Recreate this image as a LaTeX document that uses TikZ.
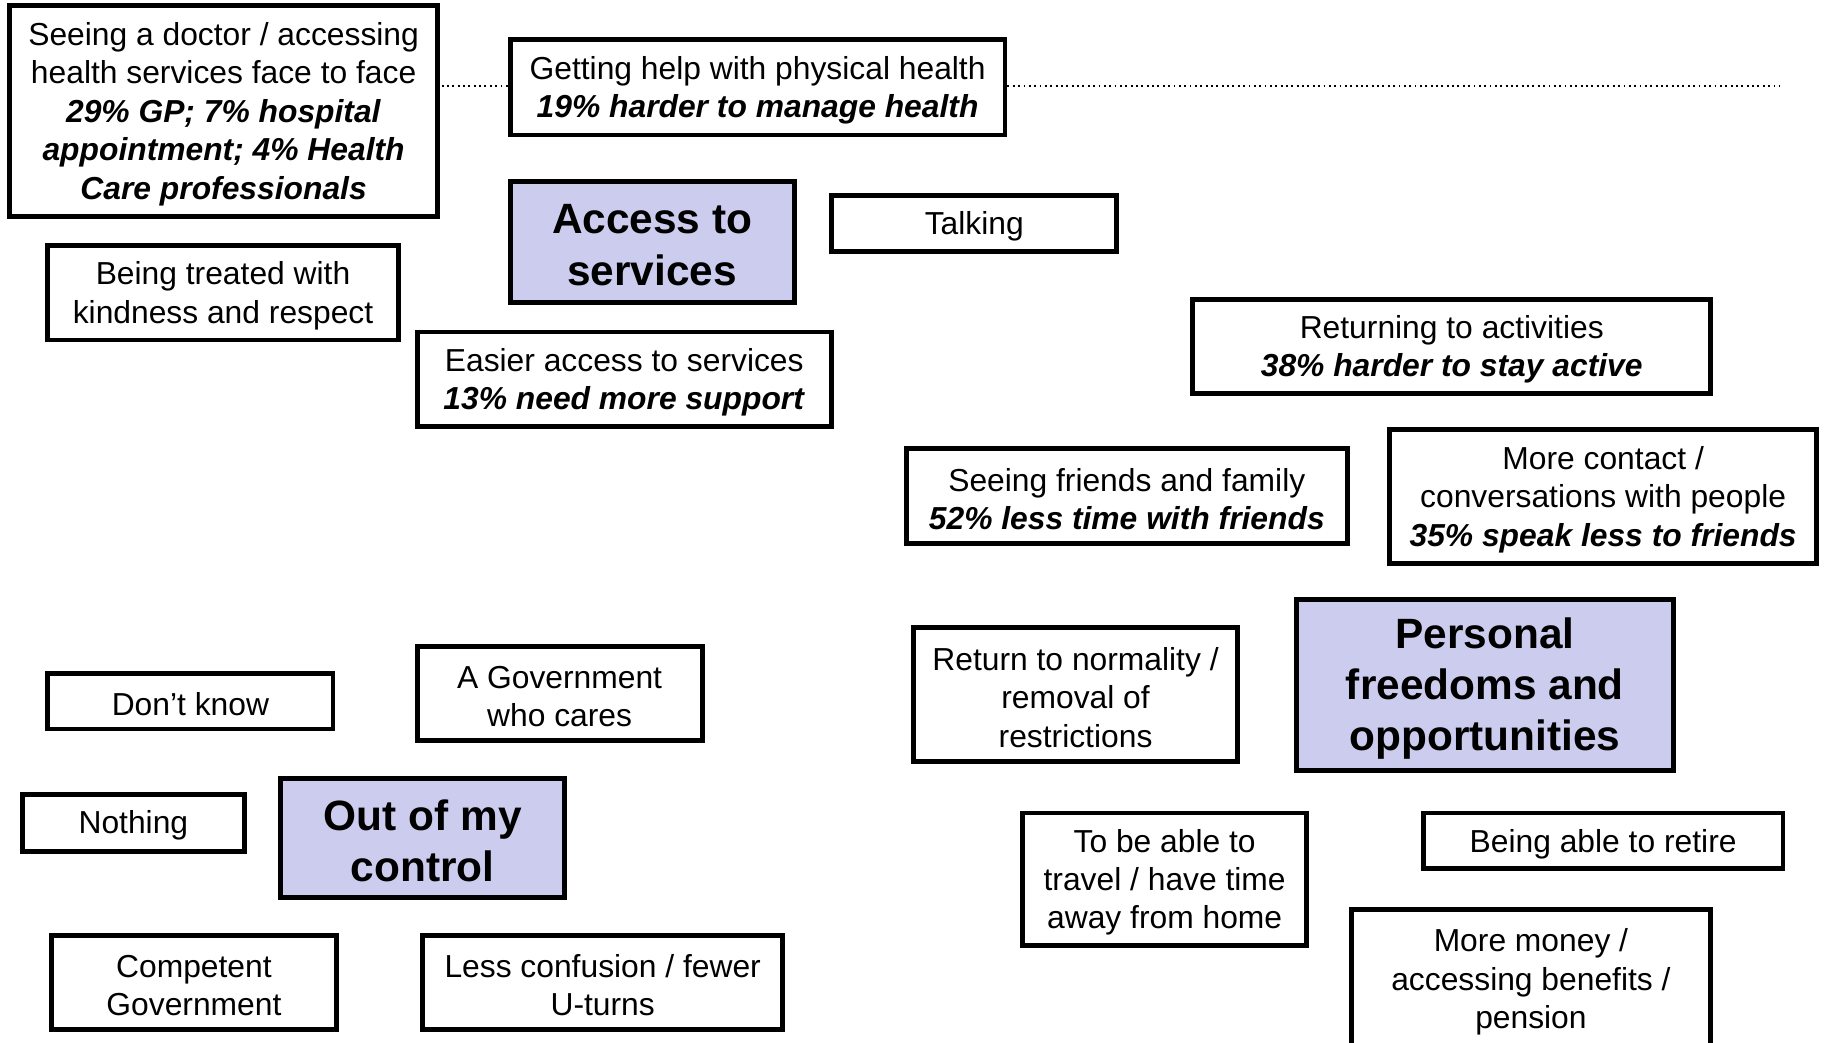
\documentclass[tikz,border=0pt]{standalone}
\usepackage{fontspec}
\setmainfont{Liberation Sans}
\definecolor{lav}{RGB}{204,204,238}
\tikzset{
  box/.style={draw=black, line width=4.2pt, fill=white, inner sep=0pt},
  hbox/.style={box, fill=lav},
  boxtext/.style={align=center, inner sep=0pt, yshift=-2.5pt, font=\fontsize{27.3}{33}\selectfont},
  hboxtext/.style={boxtext, font=\bfseries\fontsize{36.4}{44}\selectfont},
  link/.style={line width=1.6pt, dash pattern=on 1.6pt off 3pt}
}
\newcommand\bx[7]{\node[#1, minimum width={#5-#3-4.2}, minimum height={#6-#4-4.2},
  label={[#1text]center:{#7}}] (#2) at ({(#3+#5)/2},{(#4+#6)/2}) {};}
\newcommand\bi[1]{\textbf{\textit{#1}}}
\begin{document}
\begin{tikzpicture}[x=1pt,y=-1pt]
\useasboundingbox[fill=white] (0,0) rectangle (1567,895);
\coordinate (lineend) at (1528,74);
\bx{box}{doctor}{6}{3}{378}{188}{Seeing a doctor / accessing\\health services face to face\\\bi{29\% GP; 7\% hospital}\\\bi{appointment; 4\% Health}\\\bi{Care professionals}}
\bx{box}{physical}{436}{32}{865}{118}{Getting help with physical health\\\bi{19\% harder to manage health}}
\draw[link] (physical.west |- lineend) -- (doctor.east |- lineend);
\draw[link] (physical.east |- lineend) -- (lineend);
\bx{hbox}{access}{436}{154}{684}{262}{Access to\\services}
\bx{box}{talking}{712}{166}{961}{218}{Talking}
\bx{box}{kindness}{39}{209}{344}{294}{Being treated with\\kindness and respect}
\bx{box}{easier}{356}{283}{716}{368}{Easier access to services\\\bi{13\% need more support}}
\bx{box}{activities}{1022}{255}{1471}{340}{Returning to activities\\\bi{38\% harder to stay active}}
\bx{box}{friends}{776}{383}{1159}{469}{Seeing friends and family\\\bi{52\% less time with friends}}
\bx{box}{contact}{1191}{367}{1562}{486}{More contact /\\conversations with people\\\bi{35\% speak less to friends}}
\bx{hbox}{personal}{1111}{513}{1439}{664}{Personal\\freedoms and\\opportunities}
\bx{box}{normality}{782}{537}{1065}{656}{Return to normality /\\removal of\\restrictions}
\bx{box}{dontknow}{39}{576}{288}{628}{Don’t know}
\bx{box}{cares}{356}{553}{605}{638}{A Government\\who cares}
\bx{box}{nothing}{17}{680}{212}{733}{Nothing}
\bx{hbox}{control}{239}{666}{487}{773}{Out of my\\control}
\bx{box}{travel}{876}{696}{1124}{814}{To be able to\\travel / have time\\away from home}
\bx{box}{retire}{1220}{696}{1533}{748}{Being able to retire}
\bx{box}{competent}{42}{801}{291}{886}{Competent\\Government}
\bx{box}{confusion}{361}{801}{674}{886}{Less confusion / fewer\\U-turns}
\bx{box}{money}{1158}{779}{1471}{902}{More money /\\accessing benefits /\\pension}
\end{tikzpicture}
\end{document}
